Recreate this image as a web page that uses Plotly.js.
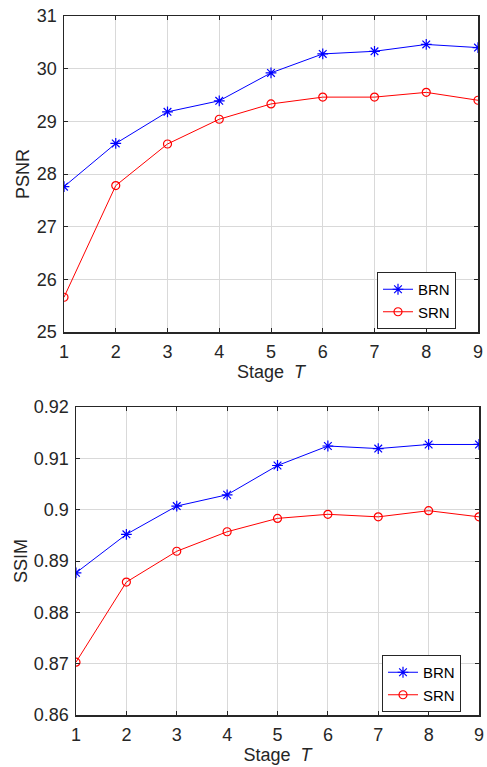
<!DOCTYPE html>
<html>
<head>
<meta charset="utf-8">
<script src="https://cdn.plot.ly/plotly-3.0.1.min.js"></script>
<style>html,body{margin:0;padding:0;background:#fff;}#chart{width:487px;height:767px;}</style>
</head>
<body>
<div id="chart"></div>
<script>
const stages = [1, 2, 3, 4, 5, 6, 7, 8, 9];
const psnrBRN = [27.76, 28.58, 29.18, 29.39, 29.92, 30.28, 30.33, 30.46, 30.40];
const psnrSRN = [25.66, 27.78, 28.57, 29.04, 29.33, 29.46, 29.46, 29.55, 29.40];
const ssimBRN = [0.8877, 0.8952, 0.9007, 0.9029, 0.9086, 0.9124, 0.9119, 0.9127, 0.9127];
const ssimSRN = [0.8703, 0.8859, 0.8919, 0.8957, 0.8983, 0.8991, 0.8986, 0.8998, 0.8986];
const psnrTicks = [25, 26, 27, 28, 29, 30, 31];
const ssimTicks = [0.86, 0.87, 0.88, 0.89, 0.9, 0.91, 0.92];
const ssimTickText = ['0.86', '0.87', '0.88', '0.89', '0.9', '0.91', '0.92'];

const FAM = 'Liberation Sans, Arial, sans-serif';
const font = {family: FAM, size: 18, color: '#262626'};
const legFont = {family: FAM, size: 15, color: '#000'};
const blue = '#0000ff', red = '#ff0000';

function trace(y, name, color, symbol, xa, ya, legend) {
  return {
    x: stages, y: y, name: name, type: 'scatter', mode: 'lines+markers',
    xaxis: xa, yaxis: ya, legend: legend,
    line: {color: color, width: 1},
    marker: {symbol: symbol, size: symbol === 'asterisk-open' ? 9 : 8, color: color, line: {color: color, width: 1.2}}
  };
}

const data = [
  trace(psnrBRN, 'BRN', blue, 'asterisk-open', 'x', 'y', 'legend'),
  trace(psnrSRN, 'SRN', red, 'circle-open', 'x', 'y', 'legend'),
  trace(ssimBRN, 'BRN', blue, 'asterisk-open', 'x2', 'y2', 'legend2'),
  trace(ssimSRN, 'SRN', red, 'circle-open', 'x2', 'y2', 'legend2')
];

const axCommon = {
  showline: true, linecolor: '#262626', linewidth: 1.5, mirror: 'ticks',
  ticks: 'inside', ticklen: 4, tickcolor: '#262626',
  showgrid: true, gridcolor: '#d9d9d9', gridwidth: 1,
  zeroline: false, tickfont: font, fixedrange: true
};

const layout = {
  width: 487, height: 767,
  margin: {l: 0, r: 0, t: 0, b: 0},
  paper_bgcolor: '#fff', plot_bgcolor: '#fff',
  font: legFont,
  xaxis: Object.assign({}, axCommon, {
    domain: [64/487, 478/487], anchor: 'y', range: [1, 9], tickvals: stages,
    ticklabelstandoff: 3,
    title: {text: 'Stage  <i>T</i>', font: font, standoff: 3}
  }),
  yaxis: Object.assign({}, axCommon, {
    domain: [1 - 332/767, 1 - 16/767], anchor: 'x', range: [25, 31], tickvals: psnrTicks,
    ticklabelstandoff: 2,
    title: {text: 'PSNR', font: font, standoff: 2}
  }),
  xaxis2: Object.assign({}, axCommon, {
    domain: [76/487, 479/487], anchor: 'y2', range: [1, 9], tickvals: stages,
    ticklabelstandoff: 3,
    title: {text: 'Stage  <i>T</i>', font: font, standoff: 3}
  }),
  yaxis2: Object.assign({}, axCommon, {
    domain: [1 - 715/767, 1 - 407/767], anchor: 'x2', range: [0.86, 0.92],
    tickvals: ssimTicks, ticktext: ssimTickText,
    ticklabelstandoff: 2,
    title: {text: 'SSIM', font: font, standoff: 1}
  }),
  legend: {
    x: 377/487, y: 1 - 272/767, xanchor: 'left', yanchor: 'top',
    bgcolor: '#fff', bordercolor: '#262626', borderwidth: 1,
    font: legFont, tracegroupgap: 0, itemwidth: 30
  },
  legend2: {
    x: 382/487, y: 1 - 655/767, xanchor: 'left', yanchor: 'top',
    bgcolor: '#fff', bordercolor: '#262626', borderwidth: 1,
    font: legFont, tracegroupgap: 0, itemwidth: 30
  },
  showlegend: true
};

Plotly.newPlot('chart', data, layout, {displayModeBar: false, staticPlot: true});
</script>
</body>
</html>
